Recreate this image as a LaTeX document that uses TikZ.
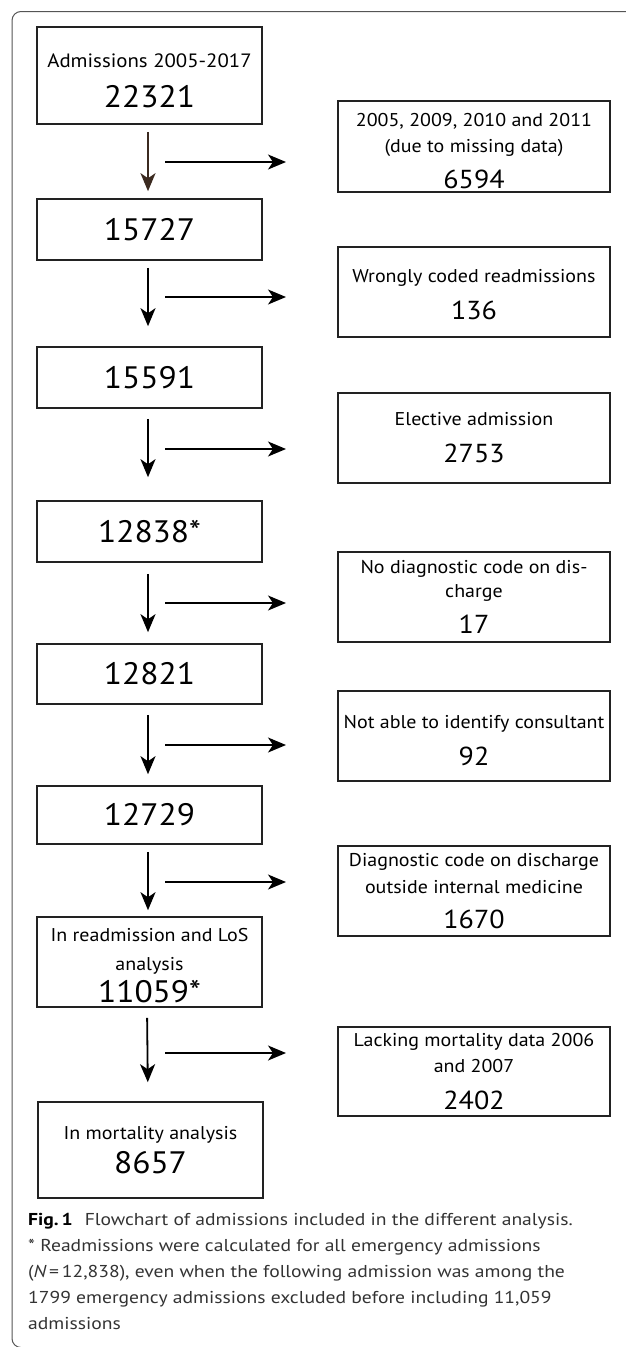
\documentclass[tikz,border=0pt]{standalone}
\usepackage{fontspec}
\setmainfont{PT Sans}[FakeStretch=1.08]
\newfontfamily\capfont{PT Sans}[FakeStretch=1.14]
\usetikzlibrary{arrows.meta}
\definecolor{boxline}{HTML}{222222}
\definecolor{brownarrow}{HTML}{3B2A20}
\definecolor{captext}{HTML}{333333}
\definecolor{framecol}{HTML}{555555}
\newcommand{\lab}{\fontsize{18.5}{26}\selectfont}
\newcommand{\nbig}{\fontsize{31}{36}\selectfont}
\newcommand{\nsm}{\fontsize{26}{36}\selectfont}
\newcommand{\topstrut}[1]{\rule{0pt}{#1}}
\begin{document}
\begin{tikzpicture}[x=1pt,y=-1pt,
  lbox/.style={draw=boxline, line width=1.6pt, minimum width=225pt, inner sep=0pt, align=center, font=\lab},
  rbox/.style={draw=boxline, line width=1.6pt, minimum width=272pt, inner sep=0pt, align=center, font=\lab},
  flow/.style={draw=black, line width=1.8pt, -{Stealth[length=18pt,width=15pt,inset=5pt]}},
  frameline/.style={draw=framecol, line width=1pt, rounded corners=9pt},
  captionstyle/.style={anchor=north west, align=left, text=captext, inner sep=0pt, font=\capfont\fontsize{17.2}{26}\selectfont}
]
\useasboundingbox (0,0) rectangle (625,1347);

% frame
\draw[frameline] (640,11.5) -- (12,11.5) -- (12,1347.5) -- (40,1347.5);

% left column
\node[lbox, minimum height=97pt] (b1) at (149.5,75.5) {\fontsize{19.3}{26}\selectfont\topstrut{24pt}Admissions 2005-2017\\[14pt]\nbig 22321};
\node[lbox, minimum height=61pt] (b2) at (149.5,229.5) {\nbig 15727};
\node[lbox, minimum height=61pt] (b3) at (149.5,377.5) {\nbig 15591};
\node[lbox, minimum height=61pt] (b4) at (149.5,531.5) {\nbig 12838*};
\node[lbox, minimum height=60pt] (b5) at (149.5,674) {\nbig 12821};
\node[lbox, minimum height=58pt] (b6) at (149.5,815) {\nbig 12729};
\node[lbox, minimum height=90pt] (b7) at (149.5,962) {\topstrut{20pt}In readmission and LoS\\[3pt]analysis\\[6pt]\nbig 11059*};
\node[lbox, minimum height=96pt] (b8) at (150.5,1150) {In mortality analysis\\[8.5pt]\nbig 8657};

% right column
\node[rbox, minimum height=91pt] (r1) at (474,146.5) {\topstrut{22pt}2005, 2009, 2010 and 2011\\(due to missing data)\\[10pt]\nsm 6594};
\node[rbox, minimum height=90pt] (r2) at (474,292) {\topstrut{18pt}Wrongly coded readmissions\\[11pt]\nsm 136};
\node[rbox, minimum height=90pt] (r3) at (474,438) {Elective admission\\[11pt]\nsm 2753};
\node[rbox, minimum height=90pt] (r4) at (474,597) {No diagnostic code on dis-\\[-2pt]charge\\[10pt]\nsm 17};
\node[rbox, minimum height=90pt] (r5) at (474,736) {\topstrut{22pt}Not able to identify consultant\\[11pt]\nsm 92};
\node[rbox, minimum height=90pt] (r6) at (474,891) {Diagnostic code on discharge\\[1pt]outside internal medicine\\[9pt]\nsm 1670};
\node[rbox, minimum height=89pt] (r7) at (474,1071.5) {Lacking mortality data 2006\\and 2007\\[11pt]\nsm 2402};

% vertical arrows
\draw[flow, draw=brownarrow, -{Stealth[length=18pt,width=15pt,inset=5pt,color=brownarrow]}, shorten <=7pt, shorten >=7pt] ([xshift=-1.5pt]b1.south) -- ([xshift=-1.5pt]b2.north);
\draw[flow, shorten <=7pt, shorten >=20pt] ([xshift=-1.5pt]b2.south) -- ([xshift=-1.5pt]b3.north);
\draw[flow, shorten <=10pt, shorten >=23pt] ([xshift=-1.5pt]b3.south) -- ([xshift=-1.5pt]b4.north);
\draw[flow, shorten <=11pt, shorten >=11pt] ([xshift=-1.5pt]b4.south) -- ([xshift=-1.5pt]b5.north);
\draw[flow, shorten <=10pt, shorten >=11pt] ([xshift=-1.5pt]b5.south) -- ([xshift=-1.5pt]b6.north);
\draw[flow, shorten <=7pt, shorten >=6pt] ([xshift=-1.5pt]b6.south) -- ([xshift=-1.5pt]b7.north);
\draw[flow, shorten <=10pt, shorten >=19pt] ([xshift=-2.5pt]b7.south) -- ([xshift=-2.5pt]b8.north);

% horizontal arrows
\foreach \i/\y in {1/162,2/297,3/449,4/603,5/745,6/882,7/1053}{
  \coordinate (h\i a) at (165,\y);
  \coordinate (h\i b) at (286,\y);
  \draw[flow] (h\i a) -- (h\i b);
}

% caption
\node[captionstyle] (cap) at (28,1213) {{\bfseries\color{black}Fig.\,1}\hspace{0.7em}Flowchart of admissions included in the different analysis.\\
* Readmissions were calculated for all emergency admissions\\
({\itshape N}\,=\,12,838), even when the following admission was among the\\
1799 emergency admissions excluded before including 11,059\\
admissions};
\end{tikzpicture}
\end{document}
